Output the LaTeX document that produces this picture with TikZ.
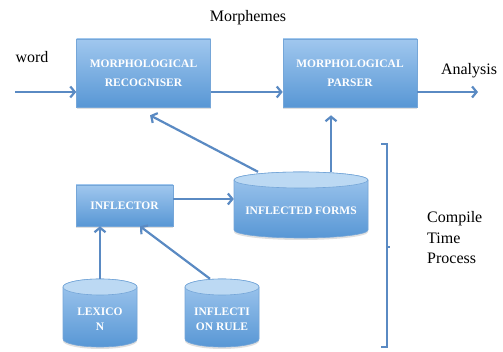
\documentclass[tikz,border=0pt]{standalone}
\usepackage{fontspec}
\setmainfont{Liberation Serif}
\usetikzlibrary{arrows.meta,shadows}

\definecolor{flow}{HTML}{5A8AC3}
\definecolor{boxtop}{HTML}{A0C7EE}
\definecolor{boxbot}{HTML}{5897D5}
\definecolor{boxedge}{HTML}{75A6D8}
\definecolor{captop}{HTML}{BCD9F3}

\tikzset{
  procbox/.style={draw=boxedge, line width=0.6pt, top color=boxtop, bottom color=boxbot,
    text=white, align=center, font=\bfseries\fontsize{11.5}{19}\selectfont, inner sep=0pt,
    drop shadow={opacity=0.25, shadow xshift=0pt, shadow yshift=-2pt}},
  drumtext/.style={text=white, align=center, font=\bfseries\fontsize{11.5}{15}\selectfont, inner sep=0pt},
  flowarrow/.style={draw=flow, line width=2.2pt, -{Straight Barb[length=4.5pt,width=11pt]}},
  plainlabel/.style={font=\fontsize{16}{20.5}\selectfont, inner sep=0pt},
}

% database drum: #1 name, #2 centre x, #3 bottom y, #4 top y, #5 half width, #6 text
\newcommand\drum[6]{%
  \fill[black, opacity=0.12] (#2-#5,#4-8) -- (#2-#5,#3+6) arc[start angle=180,end angle=360,x radius=#5,y radius=8] -- (#2+#5,#4-8) -- cycle;
  \shadedraw[top color=boxtop, bottom color=boxbot, draw=boxedge, line width=0.6pt]
    (#2-#5,#4-8) -- (#2-#5,#3+8) arc[start angle=180,end angle=360,x radius=#5,y radius=8]
    -- (#2+#5,#4-8) arc[start angle=0,end angle=180,x radius=#5,y radius=8] -- cycle;
  \filldraw[fill=captop, draw=boxedge, line width=0.6pt] (#2,#4-8) ellipse[x radius=#5, y radius=8];
  \node[minimum width=2*#5, minimum height=#4-#3, inner sep=0pt] (#1) at (#2,{(#3+#4)/2}) {};
  \node[drumtext] (#1 text) at (#2,{(#3+#4)/2-6}) {#6};
}

\begin{document}
\begin{tikzpicture}[x=1pt,y=1pt]
  \fill[white] (0,0) rectangle (503,352);
  \useasboundingbox (0,0) rectangle (503,352);

  % processing stages
  \node[procbox, minimum width=134pt, minimum height=68pt] (rec) at (143.5,279) {MORPHOLOGICAL\\RECOGNISER};
  \node[procbox, minimum width=134pt, minimum height=68pt] (par) at (350,279) {MORPHOLOGICAL\\PARSER};
  \node[procbox, minimum width=97pt, minimum height=41pt] (inf) at (124.5,146.5) {INFLECTOR};

  % data stores
  \drum{forms}{301}{114}{180}{67}{INFLECTED FORMS}
  \drum{lex}{100}{5}{73}{37}{LEXICO\\N}
  \drum{rule}{222}{5}{73}{37}{INFLECTI\\ON RULE}

  % labels
  \node[plainlabel] (morph) at (248,334) {Morphemes};
  \node[plainlabel] (word) at (32,295) {word};
  \node[plainlabel] (ana) at (469,281) {Analysis};
  \node[plainlabel, align=left, anchor=west] (ctp) at (427,114) {Compile\\Time\\Process};

  % main pipeline
  \coordinate (in) at (15,260);
  \coordinate (out) at (478,260);
  \draw[flowarrow] (in) -- (rec.west |- in);
  \draw[flowarrow] (rec.east |- in) -- (par.west |- in);
  \draw[flowarrow] (par.east |- out) -- (out);

  % feeding the stages from the inflected forms
  \draw[flowarrow] ([xshift=-43pt]forms.north) -- ([xshift=6.5pt,yshift=-8pt]rec.south);
  \draw[flowarrow] ([xshift=30pt]forms.north) -- ([xshift=-19pt,yshift=-8pt]par.south);

  % compile-time part
  \draw[flowarrow] ([yshift=6.5pt]inf.east) -- ([yshift=6pt]forms.west);
  \draw[flowarrow] (lex.north) -- (inf.south -| lex.north);
  \draw[flowarrow] ([xshift=-12pt]rule.north) -- ([xshift=15.5pt]inf.south);

  % brace around the compile-time part
  \coordinate (bt) at (387,208);
  \coordinate (bb) at (387,5);
  \coordinate (bm) at (387,105);
  \draw[flow, line width=1.6pt] ([xshift=-6pt]bt) -- (bt) -- (bb) -- ([xshift=-6pt]bb);
  \draw[flow, line width=1.6pt] (bm) -- ([xshift=3pt]bm);
\end{tikzpicture}
\end{document}
